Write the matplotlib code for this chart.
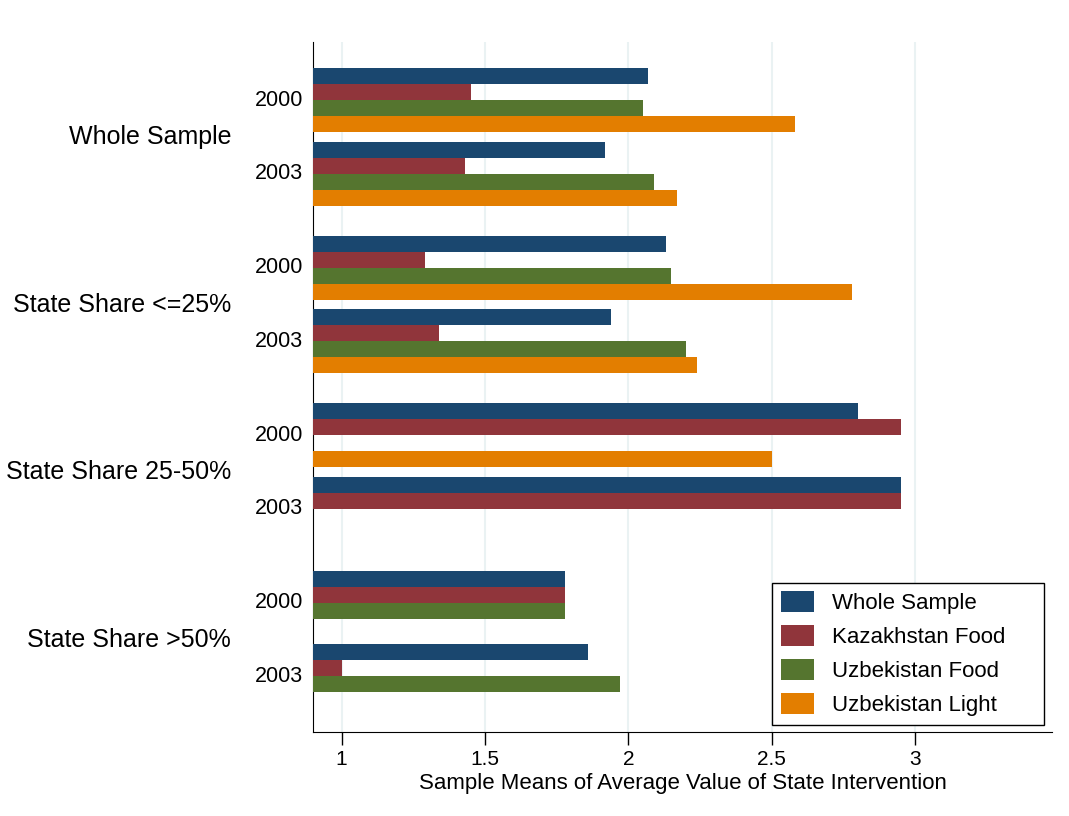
import numpy as np
import matplotlib.pyplot as plt

plt.rcParams['font.family'] = ['Liberation Sans', 'DejaVu Sans']

groups = ["Whole Sample", "State Share <=25%", "State Share 25-50%", "State Share >50%"]
years = ["2000", "2003"]
series = ["Whole Sample", "Kazakhstan Food", "Uzbekistan Food", "Uzbekistan Light"]

# one value per (group, year): WS-2000, WS-2003, <=25-2000, ...
whole_sample = [2.07, 1.92, 2.13, 1.94, 2.80, 2.95, 1.78, 1.86]
kazakhstan_food = [1.45, 1.43, 1.29, 1.34, 2.95, 2.95, 1.78, 1.00]
uzbekistan_food = [2.05, 2.09, 2.15, 2.20, np.nan, np.nan, 1.78, 1.97]
uzbekistan_light = [2.58, 2.17, 2.78, 2.24, 2.50, np.nan, np.nan, np.nan]

colors = ["#1a476f", "#90353b", "#55752f", "#e37e00"]

# layout (y axis in pixel-like units)
bar_h = 16
year_step = 73.5
group_step = 167.5
top_pad = 26.3
total_h = 690

fig = plt.figure(figsize=(10.69, 8.16), dpi=100)
ax = fig.add_axes([313/1069, 1-732/816, (1052-313)/1069, (732-42)/816])

data = [whole_sample, kazakhstan_food, uzbekistan_food, uzbekistan_light]
x0 = 0.9
block_tops = []
for g in range(len(groups)):
    for y in range(len(years)):
        block_tops.append(top_pad + g*group_step + y*year_step)

for s, vals in enumerate(data):
    vals = np.array(vals, dtype=float)
    ypos = np.array(block_tops) + s*bar_h + bar_h/2
    ok = ~np.isnan(vals)
    ax.barh(ypos[ok], vals[ok] - x0, left=x0, height=bar_h,
            color=colors[s], label=series[s], zorder=3)

ax.set_xlim(x0, 3.478)
ax.set_ylim(total_h, 0)

ax.set_xticks([1, 1.5, 2, 2.5, 3])
ax.set_xticklabels(["1", "1.5", "2", "2.5", "3"])
ax.xaxis.grid(True, color="#eaf2f3", linewidth=1.5, zorder=0)
ax.tick_params(axis="x", length=9, width=1, labelsize=15, pad=4)
ax.set_yticks([])

for side in ["top", "right"]:
    ax.spines[side].set_visible(False)

# year labels and group labels, offsets in points from the left spine
ytr = ax.get_yaxis_transform()
for i, t in enumerate(block_tops):
    ax.annotate(years[i % 2], xy=(0, t + 2*bar_h), xycoords=ytr,
                xytext=(-7.2, 0), textcoords="offset points",
                ha="right", va="center", fontsize=15.5)
for g, name in enumerate(groups):
    yc = top_pad + g*group_step + (year_step + 4*bar_h)/2
    ax.annotate(name, xy=(0, yc), xycoords=ytr,
                xytext=(-59, 0), textcoords="offset points",
                ha="right", va="center", fontsize=18)

ax.set_xlabel("Sample Means of Average Value of State Intervention", fontsize=16, labelpad=3)

leg = ax.legend(loc="lower left",
                bbox_to_anchor=(772/1069, 1-725/816, (1044-772)/1069, (725-582)/816),
                bbox_transform=fig.transFigure, mode="expand", borderaxespad=0,
                fontsize=16, fancybox=False, edgecolor="black", framealpha=1,
                handlelength=1.49, handleheight=1.04, handletextpad=0.8,
                labelspacing=0.5, borderpad=0.4)
leg.get_frame().set_linewidth(1)

fig.savefig("out.png", dpi=100, facecolor="white")
